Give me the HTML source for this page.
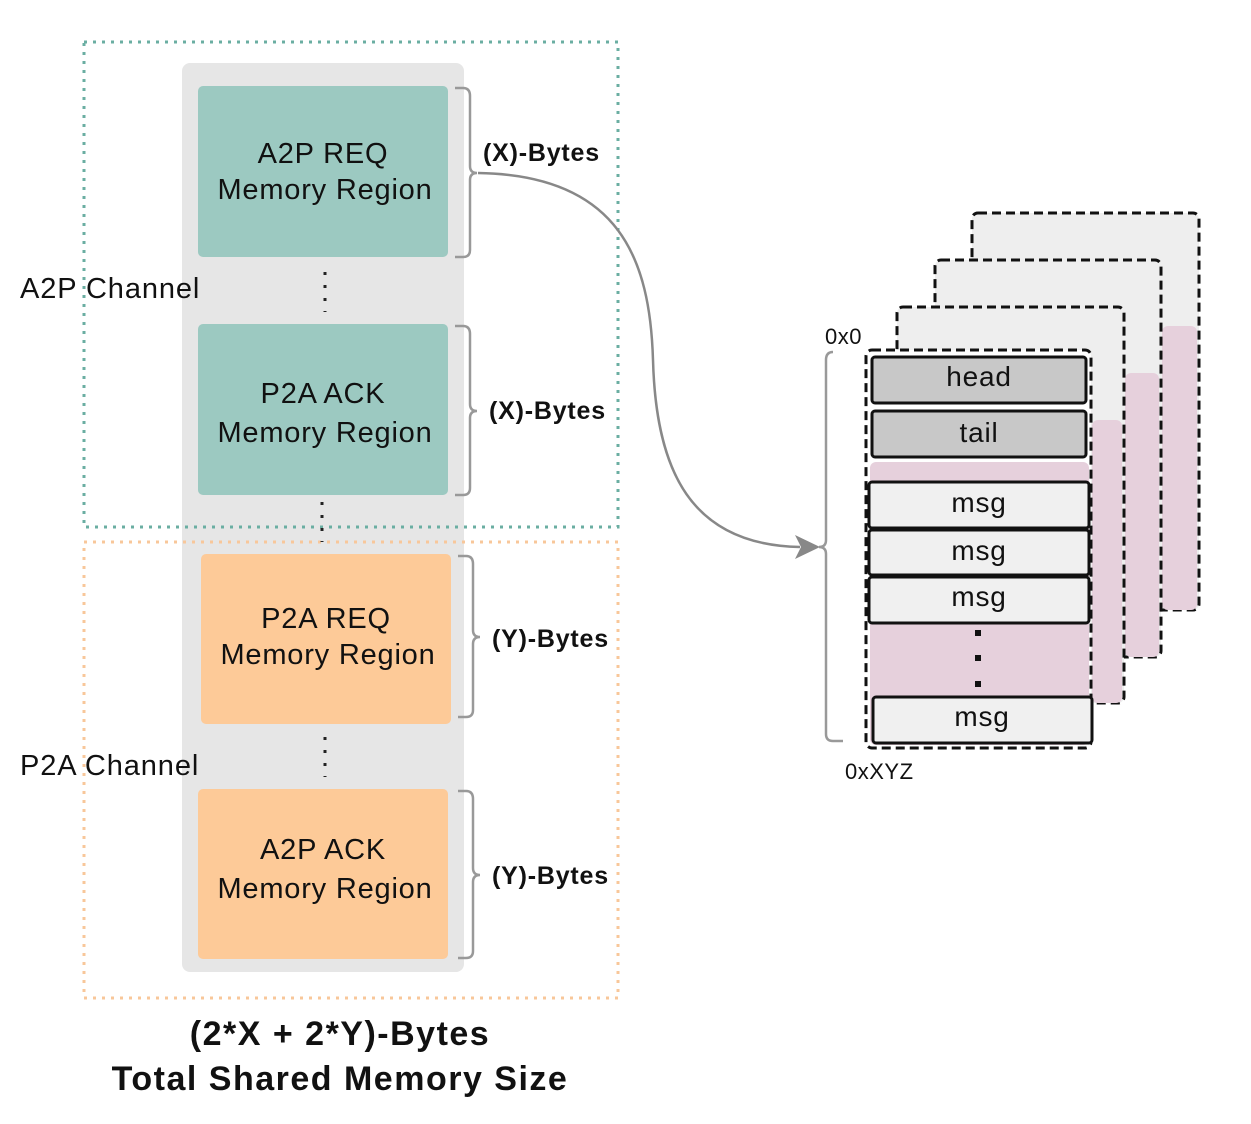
<!DOCTYPE html>
<html><head><style>body{margin:0;background:#fff}svg{display:block}text{font-family:"Liberation Sans",sans-serif}</style></head><body>
<svg width="1251" height="1124" viewBox="0 0 1251 1124" xmlns="http://www.w3.org/2000/svg">
<rect x="182" y="63" width="282" height="909" rx="8" fill="#e6e6e6"/>
<rect x="84" y="42" width="534" height="485" fill="none" stroke="#6aaea2" stroke-width="3" stroke-dasharray="3 6"/>
<rect x="84" y="542" width="534" height="456" fill="none" stroke="#f8c79a" stroke-width="3" stroke-dasharray="3 6"/>
<rect x="198" y="86" width="250" height="171" rx="5" fill="#9cc9c1"/>
<rect x="198" y="324" width="250" height="171" rx="5" fill="#9cc9c1"/>
<rect x="201" y="554" width="250" height="170" rx="5" fill="#fdca98"/>
<rect x="198" y="789" width="250" height="170" rx="5" fill="#fdca98"/>
<g font-size="29" text-anchor="middle" fill="#111" letter-spacing="0.8">
<text x="323" y="163">A2P REQ</text><text x="325" y="199">Memory Region</text>
<text x="323" y="403">P2A ACK</text><text x="325" y="442">Memory Region</text>
<text x="326" y="628">P2A REQ</text><text x="328" y="664">Memory Region</text>
<text x="323" y="859">A2P ACK</text><text x="325" y="898">Memory Region</text>
</g>
<g font-size="29" fill="#111" letter-spacing="0.9"><text x="20" y="298">A2P Channel</text><text x="20" y="775">P2A Channel</text></g>
<g stroke="#222" stroke-width="3" stroke-dasharray="3 10"><line x1="325" y1="272" x2="325" y2="312"/><line x1="322" y1="502" x2="322" y2="542"/><line x1="325" y1="737" x2="325" y2="777"/></g>
<g fill="none" stroke="#999" stroke-width="2.5">
<path d="M455 88 h8 q7 0 7 8 v70 q0 7 7 7 q-7 0 -7 7 v70 q0 7 -7 7 h-8"/>
<path d="M455 326 h8 q7 0 7 8 v70 q0 7 7 7 q-7 0 -7 7 v70 q0 7 -7 7 h-8"/>
<path d="M458 556 h8 q7 0 7 8 v66 q0 7 7 7 q-7 0 -7 7 v66 q0 7 -7 7 h-8"/>
<path d="M458 791 h8 q7 0 7 8 v69 q0 7 7 7 q-7 0 -7 7 v69 q0 7 -7 7 h-8"/>
<path d="M833 352 q-7 0 -7 8 v180 q0 7 -7 7 q7 0 7 7 v180 q0 7 7 7 h10"/>
<path d="M478 173 C 620 175, 650 260, 653 360 C 656 470, 690 545, 800 547" stroke="#888"/>
</g>
<path d="M820 547 L795 535 L801 547 L795 559 Z" fill="#888"/>
<g font-size="25" font-weight="bold" fill="#111" letter-spacing="0.8">
<text x="483" y="161">(X)-Bytes</text><text x="489" y="419">(X)-Bytes</text>
<text x="492" y="647">(Y)-Bytes</text><text x="492" y="884">(Y)-Bytes</text>
</g>
<rect x="972" y="213" width="227" height="397" rx="6" fill="#eeeeee" stroke="#111" stroke-width="3" stroke-dasharray="9 5"/>
<rect x="1162" y="326" width="35" height="284" rx="6" fill="#e6d0dc"/>
<rect x="935" y="260" width="226" height="397" rx="6" fill="#eeeeee" stroke="#111" stroke-width="3" stroke-dasharray="9 5"/>
<rect x="1125" y="373" width="34" height="284" rx="6" fill="#e6d0dc"/>
<rect x="897" y="307" width="227" height="396" rx="6" fill="#eeeeee" stroke="#111" stroke-width="3" stroke-dasharray="9 5"/>
<rect x="1092" y="420" width="30" height="283" rx="6" fill="#e6d0dc"/>
<rect x="866" y="350" width="225" height="398" rx="6" fill="#fff" stroke="#111" stroke-width="3" stroke-dasharray="9 5"/>
<rect x="870" y="462" width="219" height="283" rx="6" fill="#e6d0dc"/>
<g stroke="#111" stroke-width="3">
<rect x="872" y="357" width="214" height="46" rx="3" fill="#c8c8c8"/>
<rect x="872" y="411" width="214" height="46" rx="3" fill="#c8c8c8"/>
<rect x="869" y="482" width="220" height="46" rx="3" fill="#f0f0f0"/>
<rect x="869" y="530" width="220" height="45" rx="3" fill="#f0f0f0"/>
<rect x="869" y="577" width="220" height="46" rx="3" fill="#f0f0f0"/>
<rect x="873" y="697" width="219" height="46" rx="3" fill="#f0f0f0"/>
</g>
<g fill="#111"><rect x="975" y="630" width="6" height="6"/><rect x="975" y="655" width="6" height="6"/><rect x="975" y="681" width="6" height="6"/></g>
<g font-size="28" text-anchor="middle" fill="#111" letter-spacing="0.8">
<text x="979" y="386">head</text><text x="979" y="442">tail</text>
<text x="979" y="512">msg</text><text x="979" y="560">msg</text><text x="979" y="606">msg</text><text x="982" y="726">msg</text>
</g>
<g font-size="22" fill="#111" letter-spacing="0.5"><text x="825" y="344">0x0</text><text x="845" y="779">0xXYZ</text></g>
<g font-size="34" font-weight="bold" text-anchor="middle" fill="#111" letter-spacing="1.5">
<text x="340" y="1045">(2*X + 2*Y)-Bytes</text><text x="340" y="1090">Total Shared Memory Size</text>
</g>
</svg>
</body></html>
